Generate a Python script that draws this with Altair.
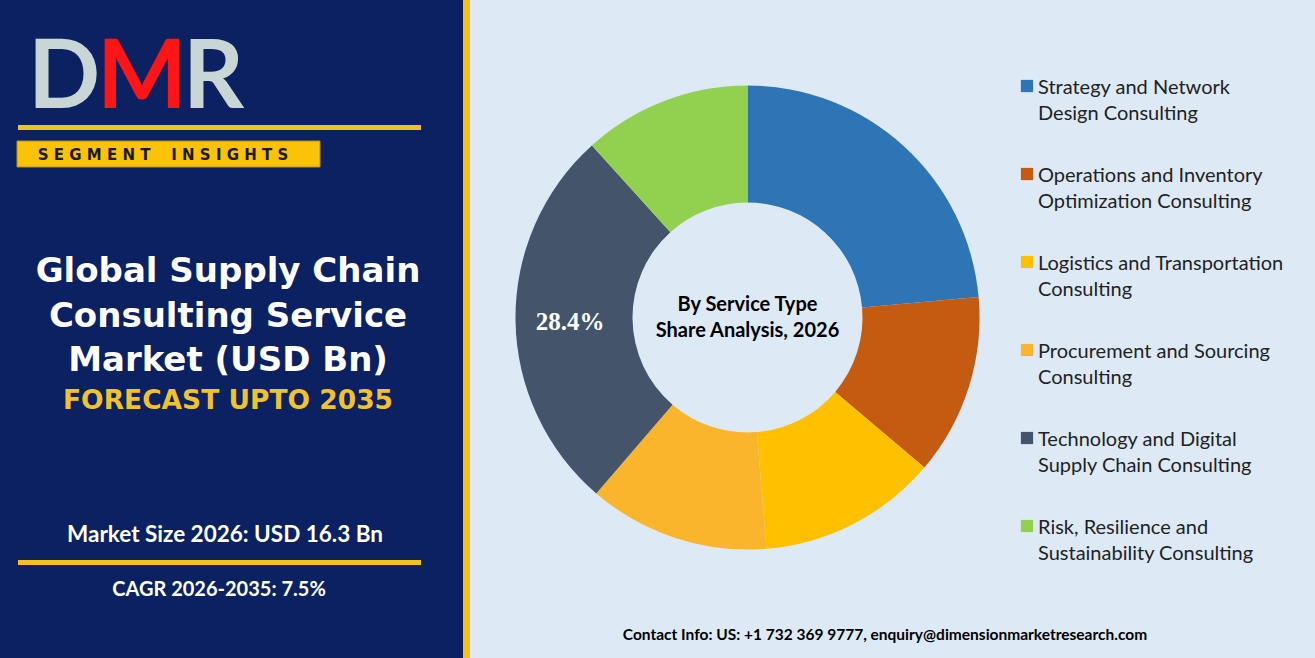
import altair as alt
import pandas as pd

# ---- data ----
categories = [
    "Strategy and Network\nDesign Consulting",
    "Operations and Inventory\nOptimization Consulting",
    "Logistics and Transportation\nConsulting",
    "Procurement and Sourcing\nConsulting",
    "Technology and Digital\nSupply Chain Consulting",
    "Risk, Resilience and\nSustainability Consulting",
]
shares = [23.6, 12.6, 12.5, 12.6, 27.0, 11.7]
colors = ["#2E75B6", "#C55A11", "#FFC000", "#FBB52C", "#44546A", "#92D050"]

NAVY = "#0B2161"
LIGHT = "#DDEAF6"
YELLOW = "#F4C01E"

df = pd.DataFrame({"category": categories, "share": shares, "idx": list(range(len(categories)))})
one = pd.DataFrame({"a": [0]})

W, H = 1315, 658
CX, CY = 747.5, 317.5

color_scale = alt.Scale(domain=categories, range=colors)

# ---- background panels ----
bg_left = alt.Chart(one).mark_rect(color=NAVY).encode(
    x=alt.value(0), x2=alt.value(463), y=alt.value(0), y2=alt.value(H))
stripe = alt.Chart(one).mark_rect(color=YELLOW).encode(
    x=alt.value(463), x2=alt.value(470), y=alt.value(0), y2=alt.value(H))
line1 = alt.Chart(one).mark_rect(color=YELLOW).encode(
    x=alt.value(18), x2=alt.value(421), y=alt.value(125), y2=alt.value(130))
line2 = alt.Chart(one).mark_rect(color=YELLOW).encode(
    x=alt.value(18), x2=alt.value(421), y=alt.value(560), y2=alt.value(565))
seg_box = alt.Chart(one).mark_rect(color="#FBC20A", stroke="#B8901A", strokeWidth=1).encode(
    x=alt.value(17), x2=alt.value(320), y=alt.value(141), y2=alt.value(167))

def txt(text, x, y, size, color="white", weight="bold", font="Lato", align="center", baseline="middle"):
    return alt.Chart(one).mark_text(
        text=text, font=font, fontSize=size, fontWeight=weight, color=color,
        align=align, baseline=baseline,
    ).encode(x=alt.value(x), y=alt.value(y))

# logo
logo_d = txt("D", 28, 108, 95, color="#C9D6D6", font="Lato", align="left", baseline="alphabetic")
logo_m = txt("M", 97, 108, 95, color="#FF1515", font="Lato", align="left", baseline="alphabetic")
logo_r = txt("R", 183, 108, 95, color="#C9D6D6", font="Lato", align="left", baseline="alphabetic")

NB = "\u00a0"
seg_text = txt(NB.join("SEGMENT") + NB * 4 + NB.join("INSIGHTS"), 163, 155, 15, color="#1A1A1A", font="DejaVu Sans")

title1 = txt("Global Supply Chain", 228, 272, 34, font="DejaVu Sans")
title2 = txt("Consulting Service", 228, 317, 34, font="DejaVu Sans")
title3 = txt("Market (USD Bn)", 228, 361, 34, font="DejaVu Sans")
forecast = txt("FORECAST UPTO 2035", 228, 401, 26.5, color="#F2C12E", font="DejaVu Sans")

market = txt("Market Size 2026: USD 16.3 Bn", 225, 535, 22.5)
cagr = txt("CAGR 2026-2035: 7.5%", 219, 590, 20)

# ---- donut ----
donut = alt.Chart(df).mark_arc(radius=232, radius2=115, stroke=None).encode(
    theta=alt.Theta("share:Q", stack=True),
    color=alt.Color("category:N", scale=color_scale, legend=None),
    order=alt.Order("idx:Q"),
    x=alt.value(CX), y=alt.value(CY),
)

center1 = txt("By Service Type", CX, 305, 20, color="black")
center2 = txt("Share Analysis, 2026", CX, 331, 20, color="black")
pct_label = txt("28.4%", 570, 322, 25, color="white", font="Liberation Serif")

# ---- legend ----
ypos = alt.Y("category:N", scale=alt.Scale(type="point", domain=categories, range=[86, 526], padding=0), axis=None)
leg_sq = alt.Chart(df).mark_square(size=150, opacity=1).encode(
    x=alt.value(1027), y=ypos,
    color=alt.Color("category:N", scale=color_scale, legend=None),
)
leg_txt = alt.Chart(df).mark_text(
    align="left", baseline="top", dy=-8, font="Lato", fontSize=20, color="#222222",
    lineBreak="\n", lineHeight=26,
).encode(x=alt.value(1038), y=ypos, text="category:N")

contact = txt("Contact Info: US: +1 732 369 9777, enquiry@dimensionmarketresearch.com", 885, 635, 15.5, color="black")

chart = alt.layer(
    bg_left, stripe, line1, line2, seg_box,
    logo_d, logo_m, logo_r, seg_text,
    title1, title2, title3, forecast, market, cagr,
    donut, center1, center2, pct_label,
    leg_sq, leg_txt, contact,
).properties(
    width=W, height=H, autosize=alt.AutoSizeParams(type="none"), padding=0, background=LIGHT,
).configure_view(stroke=None)

chart.save("out.html", embed_options={"renderer": "svg", "actions": False})
